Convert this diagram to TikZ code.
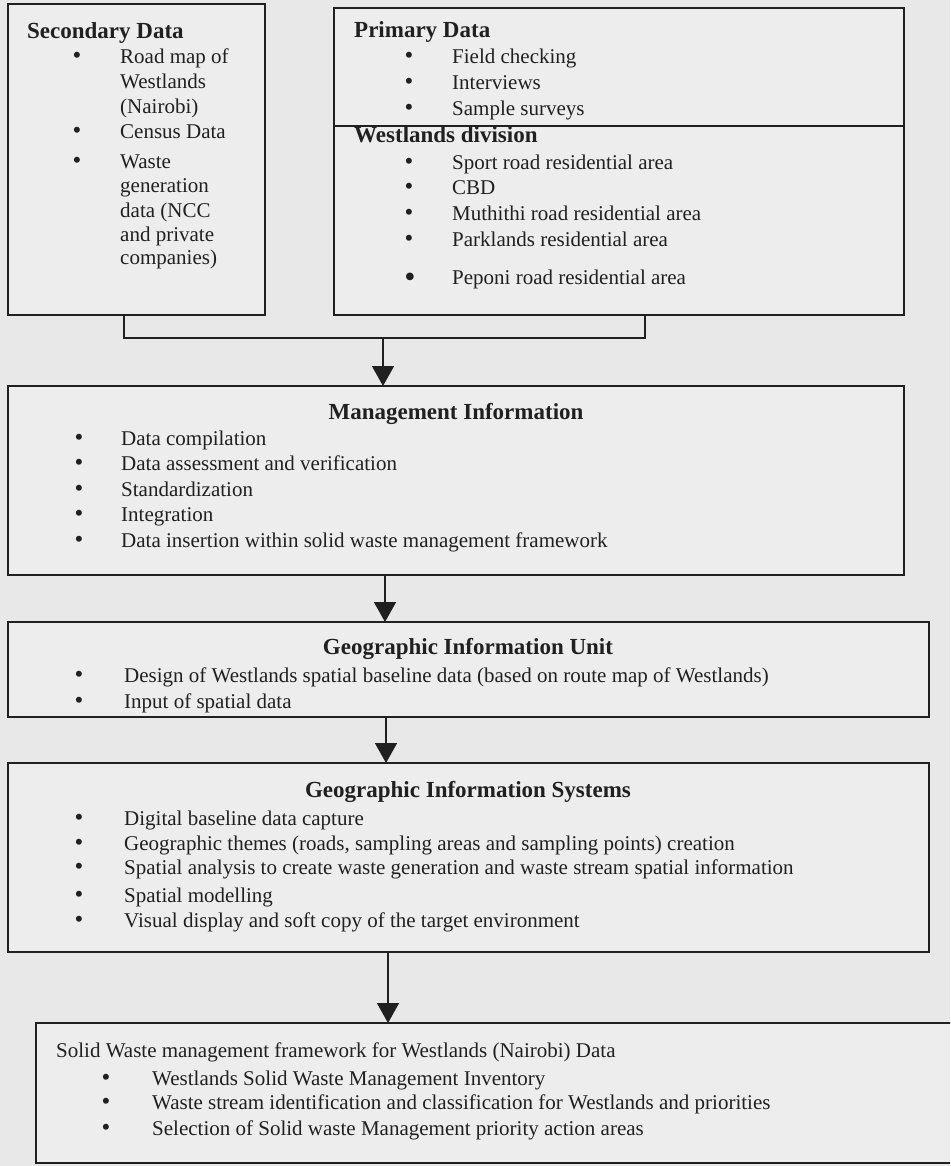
\documentclass[tikz,border=0pt]{standalone}
\usepackage{fontspec}
\setmainfont{Liberation Serif}
\usetikzlibrary{arrows.meta}
\definecolor{bg}{RGB}{232,232,232}
\definecolor{boxbg}{RGB}{237,237,237}
\definecolor{ink}{RGB}{32,32,32}
\begin{document}
\begin{tikzpicture}[x=1pt,y=-1pt,
  box/.style={draw=ink, fill=boxbg, line width=1.6pt, inner sep=0pt, outer sep=0pt, anchor=north west},
  txt/.style={inner sep=0pt, anchor=base west, text=ink, font=\fontsize{21}{25}\selectfont},
  ttl/.style={txt, font=\fontsize{23}{25}\selectfont\bfseries},
  ctitle/.style={ttl, anchor=base},
  bul/.style={inner sep=0pt, anchor=base, text=ink, font=\fontsize{25}{25}\selectfont},
  bigbul/.style={bul, font=\fontsize{32}{32}\selectfont},
  conn/.style={draw=ink, line width=1.6pt},
  arr/.style={conn, -{Triangle[length=20pt,width=22pt]}}]
\useasboundingbox (0,0) rectangle (950,1166);
\fill[bg] (0,0) rectangle (950,1166);
\clip (0,0) rectangle (950,1166);

% boxes
\node[box, minimum width=257pt, minimum height=311pt] (sec) at (8,4) {};
\node[box, minimum width=570pt, minimum height=307pt] (pri) at (334,8) {};
\node[box, minimum width=896pt, minimum height=189pt] (mgmt) at (8,386) {};
\node[box, minimum width=921pt, minimum height=95pt] (giu) at (8,622) {};
\node[box, minimum width=921pt, minimum height=189pt] (gis) at (8,763) {};
\node[box, minimum width=930pt, minimum height=140pt] (fin) at (36,1023) {};

% divider in primary box
\coordinate (div) at (0,126);
\draw[conn] (div -| pri.west) -- (div -| pri.east);

% secondary data text
\node[ttl] (sect) at (27,39) {Secondary Data};
\foreach \y/\t [count=\i] in {64/Road map of, 89/Westlands, 114/(Nairobi), 139/Census Data, 169/Waste, 193/generation, 218/data (NCC, 241/and private, 265/companies)}
  \node[txt] (s\i) at (120,\y) {\t};
\foreach \y [count=\i] in {64,139,169}
  \node[bul] (sb\i) at (77,\y) {•};

% primary data text
\node[ttl] (prit) at (354,38) {Primary Data};
\foreach \y/\t [count=\i] in {64/Field checking, 90/Interviews, 116/Sample surveys}{
  \node[bul] (pb\i) at (409,\y) {•};
  \node[txt] (p\i) at (452,\y) {\t};}
\node[ttl] (wdt) at (354,143) {Westlands division};
\foreach \y/\t [count=\i] in {170/Sport road residential area, 195/CBD, 221/Muthithi road residential area, 247/Parklands residential area}{
  \node[bul] (wb\i) at (409,\y) {•};
  \node[txt] (w\i) at (452,\y) {\t};}
\node[bigbul] (wb5) at (410,287) {•};
\node[txt] (w5) at (452,284) {Peponi road residential area};

% management information
\node[ctitle] (mt) at (456,419) {Management Information};
\foreach \y/\t [count=\i] in {445/Data compilation, 470/Data assessment and verification, 496/Standardization, 521/Integration, 547/Data insertion within solid waste management framework}{
  \node[bul] (mb\i) at (79,\y) {•};
  \node[txt] (m\i) at (121,\y) {\t};}

% geographic information unit
\node[ctitle] (ut) at (468,654) {Geographic Information Unit};
\foreach \y/\t [count=\i] in {682/Design of Westlands spatial baseline data (based on route map of Westlands), 708/Input of spatial data}{
  \node[bul] (ub\i) at (79,\y) {•};
  \node[txt] (u\i) at (124,\y) {\t};}

% geographic information systems
\node[ctitle] (gt) at (468,797) {Geographic Information Systems};
\foreach \y/\t [count=\i] in {825/Digital baseline data capture, 850/{Geographic themes (roads, sampling areas and sampling points) creation}, 874/Spatial analysis to create waste generation and waste stream spatial information, 902/Spatial modelling, 927/Visual display and soft copy of the target environment}{
  \node[bul] (gb\i) at (79,\y) {•};
  \node[txt] (g\i) at (124,\y) {\t};}

% final framework
\node[txt] (ft) at (56,1057) {Solid Waste management framework for Westlands (Nairobi) Data};
\foreach \y/\t [count=\i] in {1085/Westlands Solid Waste Management Inventory, 1109/Waste stream identification and classification for Westlands and priorities, 1135/Selection of Solid waste Management priority action areas}{
  \node[bul] (fb\i) at (106,\y) {•};
  \node[txt] (f\i) at (152,\y) {\t};}

% connectors
\coordinate (bl) at (124,338);
\coordinate (br) at (645,338);
\coordinate (j) at (383,338);
\draw[conn] (bl |- sec.south) -- (bl) -- (br) -- (br |- pri.south);
\draw[arr] (j) -- (j |- mgmt.north);
\coordinate (c1) at (385,0);
\coordinate (c2) at (386,0);
\coordinate (c3) at (388,0);
\draw[arr] (c1 |- mgmt.south) -- (c1 |- giu.north);
\draw[arr] (c2 |- giu.south) -- (c2 |- gis.north);
\draw[arr] (c3 |- gis.south) -- (c3 |- fin.north);
\end{tikzpicture}
\end{document}
